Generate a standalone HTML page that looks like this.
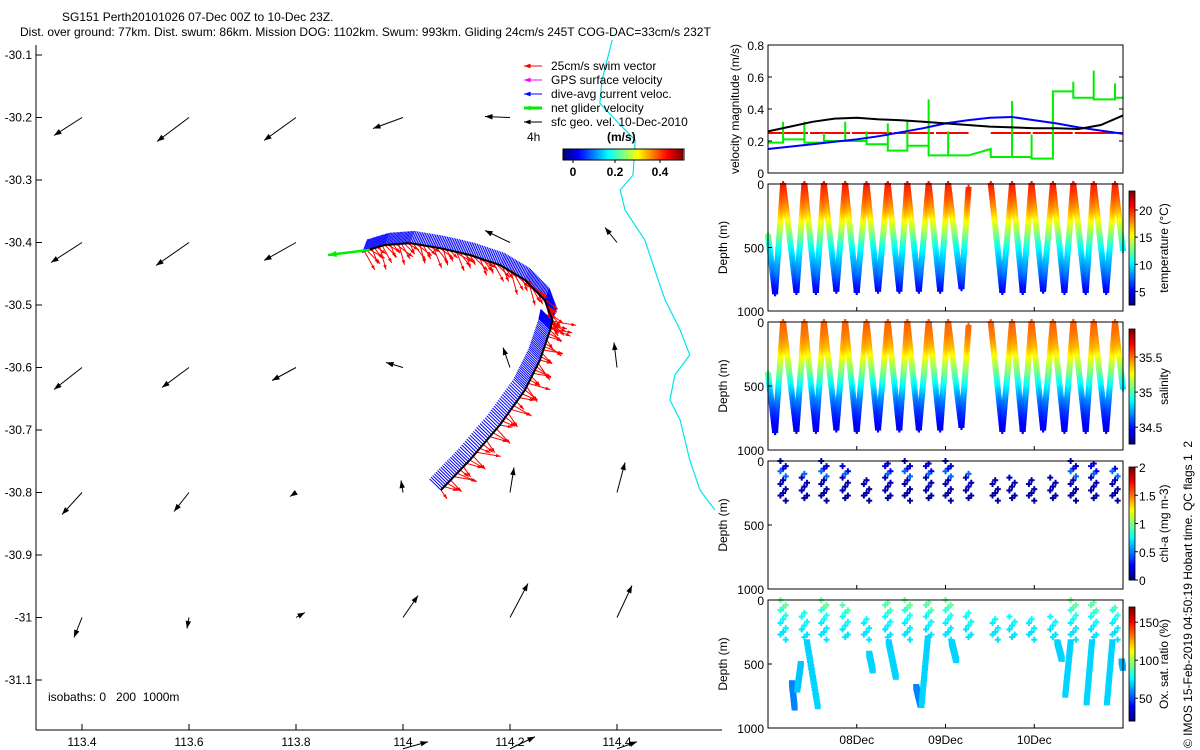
<!DOCTYPE html>
<html><head><meta charset="utf-8">
<style>
html,body{margin:0;padding:0;background:#fff;}
svg{display:block;font-family:"Liberation Sans",sans-serif;}
text{font-size:12px;fill:#000;white-space:pre;}
</style></head>
<body>
<svg id="s" width="1200" height="750" viewBox="0 0 1200 750" xmlns="http://www.w3.org/2000/svg">
<text x="62" y="21">SG151 Perth20101026 07-Dec 00Z to 10-Dec 23Z.</text>
<text x="20" y="36">Dist. over ground: 77km. Dist. swum: 86km. Mission DOG: 1102km. Swum: 993km. Gliding 24cm/s 245T COG-DAC=33cm/s 232T</text>
<g id="map"></g>
<g id="right"></g>
<text transform="translate(1192,748) rotate(-90)">© IMOS 15-Feb-2019 04:50:19 Hobart time. QC flags 1  2</text>
</svg>
<script>
// ---------- DATA ----------
const lonTicks=[113.4,113.6,113.8,114,114.2,114.4];
const latTicks=[-30.1,-30.2,-30.3,-30.4,-30.5,-30.6,-30.7,-30.8,-30.9,-31,-31.1];
const trackLon=[114.071,114.125,114.181,114.228,114.256,114.275,114.279,114.265,114.228,114.181,114.125,114.069,114.013,113.966,113.923];
const trackLat=[-30.796,-30.748,-30.692,-30.636,-30.588,-30.540,-30.524,-30.492,-30.460,-30.436,-30.420,-30.409,-30.401,-30.404,-30.415];
const geoLon=[113.4,113.6,113.8,114.0,114.2,114.4];
const geoLat=[-30.2,-30.4,-30.6,-30.8,-31.0,-31.21];
const geoU=[[-0.28,-0.32,-0.32,-0.30,-0.25,null],[-0.31,-0.33,-0.32,null,-0.25,-0.12],[-0.28,-0.27,-0.24,-0.17,-0.07,-0.03],[-0.20,-0.15,-0.06,-0.02,0.04,0.08],[-0.08,-0.02,0.09,0.15,0.18,0.15],[null,null,null,0.25,0.25,0.20]];
const geoV=[[-0.18,-0.24,-0.23,-0.11,0.01,null],[-0.20,-0.23,-0.18,null,0.12,0.15],[-0.22,-0.20,-0.13,0.05,0.20,0.25],[-0.22,-0.19,-0.04,0.12,0.25,0.30],[-0.20,-0.11,0.05,0.22,0.34,0.32],[null,null,null,0.07,0.12,0.07]];
const isoLon=[114.391,114.372,114.368,114.406,114.434,114.430,114.406,114.415,114.452,114.477,114.490,114.518,114.536,114.508,114.499,114.518,114.536,114.555,114.583];
const isoLat=[-30.076,-30.140,-30.177,-30.212,-30.236,-30.292,-30.316,-30.348,-30.396,-30.460,-30.492,-30.540,-30.580,-30.612,-30.652,-30.684,-30.748,-30.796,-30.828];
// velocity panel (time in days of Dec)
const velTime=[7.0,7.25,7.5,7.75,8.0,8.25,8.5,8.75,9.0,9.25,9.5,9.75,10.0,10.25,10.5,10.75,11.0];
const geoVel=[0.26,0.29,0.32,0.34,0.345,0.335,0.33,0.32,0.31,0.30,0.29,0.285,0.28,0.28,0.275,0.30,0.36];
const dacVel=[0.15,0.165,0.18,0.195,0.21,0.23,0.255,0.28,0.31,0.33,0.345,0.35,0.33,0.31,0.285,0.265,0.245];
const swimTime=[7.0,9.26,9.51,11.0];
const swimVel=[0.25,0.25,0.25,0.25];
const swimGap=[false,true,false];
const netT=[7.0,7.17,7.41,7.63,7.87,8.11,8.35,8.57,8.81,9.03,9.26,9.51,9.75,9.97,10.21,10.44,10.67,10.91,11.0];
const netLevel=[0.19,0.21,0.19,0.20,0.20,0.18,0.14,0.17,0.11,0.11,0.11,0.10,0.10,0.09,0.51,0.47,0.46,0.47,0.47];
const netEnd=[null,null,null,null,null,null,null,null,null,null,0.15,null,null,null,null,null,null,null,null];
const netSpike=[null,0.32,0.32,0.25,0.32,0.26,0.31,0.33,0.46,0.26,null,null,0.45,0.24,null,0.57,0.64,0.56,null];
// dive profile vertices (time, depth)
const diveT=[7.0,7.08,7.17,7.32,7.41,7.54,7.63,7.77,7.87,8.00,8.11,8.24,8.35,8.48,8.57,8.70,8.81,8.94,9.03,9.18,9.26,9.51,9.64,9.75,9.87,9.97,10.10,10.21,10.34,10.44,10.58,10.67,10.81,10.91,11.0];
const diveD=[400,860,0,850,0,850,0,840,0,850,0,840,0,840,0,840,0,840,0,820,30,0,850,0,850,0,840,0,850,0,850,0,850,0,520];
const profDepth=[0,100,200,300,400,500,600,700,800,900];
const profTemp=[20.5,19.3,17.6,15.3,13,10.5,9,7.5,5.5,4.5];
const profSal=[35.55,35.5,35.4,35.22,35.05,34.85,34.68,34.55,34.45,34.4];
// shallow sensor dives (chl / oxygen)
const sensT=[7.17,7.41,7.63,7.87,8.11,8.35,8.57,8.81,9.03,9.26,9.56,9.75,9.97,10.21,10.44,10.67,10.91];
const sensTop=[0,100,0,30,130,0,0,0,0,100,150,110,120,130,0,0,30];
const chlDepth=[20,60,100,150,200,250,290];
const chlVal=[0.12,0.2,0.45,0.1,0.08,0.08,0.06];
const oxVal=[92,88,82,76,74,72,72];
const oxSegT0=[7.27,7.33,7.44,8.14,8.36,8.67,8.73,9.07,10.26,10.35,10.59,10.82,10.985];
const oxSegT1=[7.30,7.37,7.56,8.18,8.44,8.72,8.80,9.12,10.31,10.41,10.65,10.88,11.0];
const oxSegD0=[650,700,330,420,330,680,820,330,330,740,800,800,480];
const oxSegD1=[840,500,830,550,600,820,300,470,460,330,330,330,530];
const oxSegV=[58,68,70,70,70,58,70,70,70,70,70,70,65];

// ---------- HELPERS ----------
const NS='http://www.w3.org/2000/svg';
function mk(tag,attrs,parent){const e=document.createElementNS(NS,tag);for(const k in attrs)e.setAttribute(k,attrs[k]);parent.appendChild(e);return e;}
function jet(v){v=Math.max(0,Math.min(1,v));const r=Math.max(0,Math.min(1,1.5-Math.abs(4*v-3))),g=Math.max(0,Math.min(1,1.5-Math.abs(4*v-2))),b=Math.max(0,Math.min(1,1.5-Math.abs(4*v-1)));return `rgb(${Math.round(r*255)},${Math.round(g*255)},${Math.round(b*255)})`;}
function interp(xs,ys,x){for(let i=0;i<xs.length-1;i++){if(x<=xs[i+1]){const f=(x-xs[i])/(xs[i+1]-xs[i]);return ys[i]+f*(ys[i+1]-ys[i]);}}return ys[ys.length-1];}

// ---------- MAP ----------
const map=document.getElementById('map');
const MX0=36,MY1=730,MY0=45;
const lx=lon=>82+(lon-113.4)*535;
const ly=lat=>55+(-30.1-lat)*625;
let e;
e=mk('line',{x1:MX0,y1:MY0,x2:MX0,y2:MY1,stroke:'#000'},map);


e=mk('line',{x1:MX0,y1:MY1,x2:722,y2:MY1,stroke:'#000'},map);


lonTicks.forEach(v=>{const x=lx(v);mk('line',{x1:x,y1:MY1,x2:x,y2:MY1-6,stroke:'#000'},map);
 e=mk('text',{x:x,y:MY1+16,'text-anchor':'middle'},map);e.textContent=String(v);
 
 });
latTicks.forEach(v=>{const y=ly(v);mk('line',{x1:MX0,y1:y,x2:MX0+6,y2:y,stroke:'#000'},map);
 e=mk('text',{x:MX0-4,y:y+4,'text-anchor':'end'},map);e.textContent=String(v);
 
 });
e=mk('polyline',{points:isoLon.map((v,i)=>lx(v)+','+ly(isoLat[i])).join(' '),fill:'none',stroke:'#00e5ee','stroke-width':1.2},map);


function arrow(g,x1,y1,x2,y2,col,w,hl){
 mk('line',{x1:x1,y1:y1,x2:x2,y2:y2,stroke:col,'stroke-width':w},g);
 const a=Math.atan2(y2-y1,x2-x1),h=hl;
 const p=[[x2,y2],[x2-h*Math.cos(a-0.35),y2-h*Math.sin(a-0.35)],[x2-h*Math.cos(a+0.35),y2-h*Math.sin(a+0.35)]];
 return mk('polygon',{points:p.map(q=>q.join(',')).join(' '),fill:col},g);}
const gg=mk('g',{},map);


geoLat.forEach((la,r)=>geoLon.forEach((lo,c)=>{const u=geoU[r][c],v=geoV[r][c];if(u===null)return;
 const x=lx(lo),y=ly(la);arrow(gg,x,y,x+u*100,y-v*100,'#000',1,8);}));
const tg=mk('g',{},map);


const pts=trackLon.map((v,i)=>[lx(v),ly(trackLat[i])]);
let dense=[];
for(let i=0;i<pts.length-1;i++){const n=18;for(let k=0;k<n;k++){const f=k/n;dense.push([pts[i][0]+f*(pts[i+1][0]-pts[i][0]),pts[i][1]+f*(pts[i+1][1]-pts[i][1]),i]);}}
dense.forEach((p,j)=>{const i=p[2];const south=i<6;
 const bl=(south?16:13)+(j*5%5), bdx=south?-0.72:0.35, bdy=south?-0.7:-0.94;
 mk('line',{x1:p[0],y1:p[1],x2:p[0]+bdx*bl,y2:p[1]+bdy*bl,stroke:'#0000ff','stroke-width':1},tg);});
dense.forEach((p,j)=>{if(j%2)return;const i=p[2];const south=i<6;
 const s=11+(j*7%12);const rdx=south?0.85:0.6, rdy=south?0.5:0.8;const jit=((j*13)%7-3)*0.1;
 arrow(tg,p[0],p[1],p[0]+(rdx+jit)*s,p[1]+(rdy-jit)*s,'#ff0000',1,5);});
e=mk('polyline',{points:pts.map(q=>q.join(',')).join(' '),fill:'none',stroke:'#000','stroke-width':2},tg);


e=arrow(tg,pts[pts.length-1][0]+8,pts[pts.length-1][1]-2,lx(113.86),ly(-30.42),'#00ee00',2.5,9);


const lg=mk('g',{},map);


const legItems=[['25cm/s swim vector','#ff0000'],['GPS surface velocity','#ff00ff'],['dive-avg current veloc.','#0000ff'],['net glider velocity','#00ee00'],['sfc geo. vel. 10-Dec-2010','#000']];
legItems.forEach((it,i)=>{const y=66+i*14;arrow(lg,542,y,524,y,it[1],i==3?3:1,7);e=mk('text',{x:551,y:y+4},lg);e.textContent=it[0];
 
 });
e=mk('text',{x:527,y:141},lg);e.textContent='4h';
e=mk('text',{x:607,y:141,'font-weight':'bold'},lg);e.textContent='(m/s)';
for(let i=0;i<60;i++){mk('rect',{x:563+i*2,y:149,width:2.2,height:11,fill:jet(i/59)},lg);}
mk('rect',{x:563,y:149,width:121,height:11,fill:'none',stroke:'#000'},lg);
[[0,573],[0.2,615],[0.4,660]].forEach(t=>{mk('line',{x1:t[1],y1:160,x2:t[1],y2:163,stroke:'#000'},lg);e=mk('text',{x:t[1],y:176,'text-anchor':'middle','font-weight':'bold'},lg);e.textContent=String(t[0]);});
e=mk('text',{x:48,y:701},map);e.textContent='isobaths: 0   200  1000m';



// ---------- RIGHT PANELS ----------
const R=document.getElementById('right');
const PX0=768,PX1=1123;
const tx=t=>PX0+(t-7.0)*(PX1-PX0)/4.0;
function frame(y0,y1,name){e=mk('rect',{x:PX0,y:y0,width:PX1-PX0,height:y1-y0,fill:'none',stroke:'#000'},R);
 
 }
const V0=45,V1=173;const vy=v=>V1-v/0.8*(V1-V0);
const vg=mk('g',{},R);


for(let i=0;i<swimTime.length-1;i++){if(swimGap[i])continue;
 mk('line',{x1:tx(swimTime[i]),y1:vy(swimVel[i]),x2:tx(swimTime[i+1]),y2:vy(swimVel[i+1]),stroke:'#ff0000','stroke-width':2,'stroke-dasharray':'40 2'},vg);}
let gp=[];
for(let i=0;i<netT.length-1;i++){const x=tx(netT[i]);if(netSpike[i]!==null){gp.push([x,vy(netSpike[i])]);}gp.push([x,vy(netLevel[i])]);
 gp.push([tx(netT[i+1]),vy(netEnd[i]!==null?netEnd[i]:netLevel[i])]);}
e=mk('polyline',{points:gp.map(q=>q.join(',')).join(' '),fill:'none',stroke:'#00ee00','stroke-width':2},vg);


e=mk('polyline',{points:velTime.map((t,i)=>tx(t)+','+vy(dacVel[i])).join(' '),fill:'none',stroke:'#0000ff','stroke-width':2},vg);


e=mk('polyline',{points:velTime.map((t,i)=>tx(t)+','+vy(geoVel[i])).join(' '),fill:'none',stroke:'#000','stroke-width':2},vg);


frame(V0,V1,'velocity-frame');
[0,0.2,0.4,0.6,0.8].forEach(v=>{const y=vy(v);mk('line',{x1:PX0,y1:y,x2:PX0+4,y2:y,stroke:'#000'},R);mk('line',{x1:PX1,y1:y,x2:PX1-4,y2:y,stroke:'#000'},R);
 e=mk('text',{x:PX0-4,y:y+5,'text-anchor':'end'},R);e.textContent=String(v);});
e=mk('text',{transform:`translate(739,${(V0+V1)/2}) rotate(-90)`,'text-anchor':'middle'},R);e.textContent='velocity magnitude (m/s)';


const panels=[[184,311],[322,450],[461,589],[600,728]];
function depthAxis(p){const [y0,y1]=p;frame(y0,y1,'depth-panel-frame');
 [0,500,1000].forEach(d=>{const y=y0+d/1000*(y1-y0);mk('line',{x1:PX0,y1:y,x2:PX0+4,y2:y,stroke:'#000'},R);
  e=mk('text',{x:PX0-4,y:y+5,'text-anchor':'end'},R);e.textContent=String(d);});
 e=mk('text',{transform:`translate(727,${(y0+y1)/2}) rotate(-90)`,'text-anchor':'middle'},R);e.textContent='Depth (m)';
 
 }
function cbar(y0,y1,vmin,vmax,ticks,label){const g=mk('g',{},R);
 
 
 const n=50;for(let i=0;i<n;i++){mk('rect',{x:1129,y:y1-(i+1)*(y1-y0)/n,width:6,height:(y1-y0)/n+0.5,fill:jet(i/(n-1))},g);}
 mk('rect',{x:1129,y:y0,width:6,height:y1-y0,fill:'none',stroke:'#000','stroke-width':0.8},g);
 ticks.forEach(t=>{const y=y1-(t-vmin)/(vmax-vmin)*(y1-y0);mk('line',{x1:1135,y1:y,x2:1138,y2:y,stroke:'#000'},g);e=mk('text',{x:1139,y:y+5},g);e.textContent=String(t);});
 e=mk('text',{transform:`translate(1168,${(y0+y1)/2}) rotate(-90)`,'text-anchor':'middle'},g);e.textContent=label;}
function drawDives(p,prof,vmin,vmax,name){const [y0,y1]=p;const g=mk('g',{},R);
 
 
 for(let i=0;i<diveT.length-1;i++){if(i==20)continue;const n=Math.max(8,Math.round(Math.abs(diveD[i+1]-diveD[i])/14));
  for(let k=0;k<=n;k++){const f=k/n;const t=diveT[i]+f*(diveT[i+1]-diveT[i]);const d=diveD[i]+f*(diveD[i+1]-diveD[i]);
   const val=interp(profDepth,prof,d);const c=jet((val-vmin)/(vmax-vmin));const x=tx(t),y=y0+d/1000*(y1-y0);
   mk('rect',{x:x-1,y:y-3,width:2,height:6,fill:c},g);mk('rect',{x:x-3,y:y-1,width:6,height:2,fill:c},g);}}}
drawDives(panels[0],profTemp,2.5,23.5,'temperature-points');
drawDives(panels[1],profSal,34.26,35.9,'salinity-points');
function drawShallow(p,vals,vmin,vmax,name){const [y0,y1]=p;const g=mk('g',{},R);
 
 
 sensT.forEach((t,j)=>{chlDepth.forEach((d,k)=>{if(d<sensTop[j])return;[-0.03,0,0.03].forEach((o,m)=>{if((k+m+j)%2)return;const dd=d+(m-1)*20;
  const x=tx(t+o),y=y0+dd/1000*(y1-y0),c=jet((vals[k]-vmin)/(vmax-vmin));
  mk('rect',{x:x-1,y:y-3,width:2,height:6,fill:c},g);mk('rect',{x:x-3,y:y-1,width:6,height:2,fill:c},g);});});});
 return g;}
drawShallow(panels[2],chlVal,0,2,'chl-points');
const og=drawShallow(panels[3],oxVal,20,170,'oxygen-points');
oxSegT0.forEach((t0,i)=>{const [y0,y1]=panels[3];const n=18;for(let k=0;k<=n;k++){const f=k/n;const t=t0+f*(oxSegT1[i]-t0);const d=oxSegD0[i]+f*(oxSegD1[i]-oxSegD0[i]);
 mk('rect',{x:tx(t)-3,y:y0+d/1000*(y1-y0)-3,width:6,height:6,fill:jet((oxSegV[i]-20)/150)},og);}});
panels.forEach(p=>depthAxis(p));
cbar(191,305,2.5,23.5,[5,10,15,20],'temperature (°C)');
cbar(329,444,34.26,35.9,[34.5,35,35.5],'salinity');
cbar(467,580,0,2,[0,0.5,1,1.5,2],'chl-a (mg m-3)');
cbar(607,721,20,170,[50,100,150],'Ox. sat. ratio (%)');
[[8,'08Dec'],[9,'09Dec'],[10,'10Dec']].forEach(d=>{const x=tx(d[0]);panels.forEach(p=>{mk('line',{x1:x,y1:p[1],x2:x,y2:p[1]-4,stroke:'#000'},R);});
 e=mk('text',{x:x,y:744,'text-anchor':'middle'},R);e.textContent=d[1];
 
 });
</script>
</body></html>
